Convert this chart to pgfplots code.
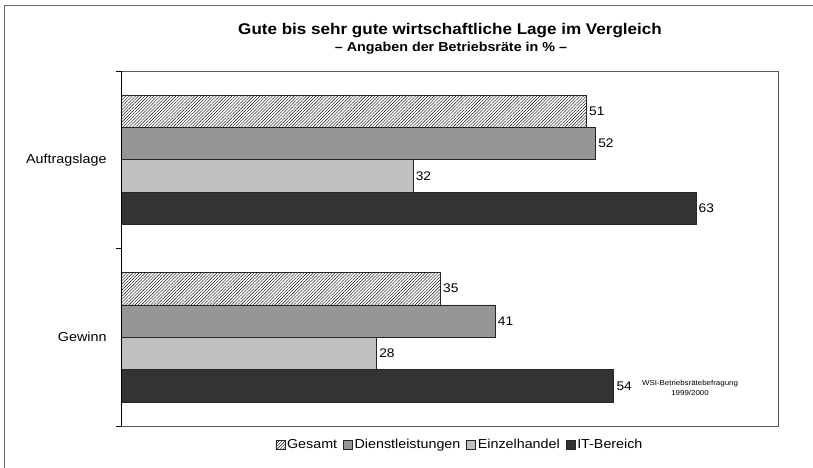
\documentclass[border=0pt]{standalone}
\usepackage{fontspec}
\setmainfont{Liberation Sans}[FakeStretch=1.1]
\usepackage{pgfplots}
\pgfplotsset{compat=1.18}
\usetikzlibrary{patterns.meta}
\definecolor{dienst}{HTML}{969696}
\definecolor{einzel}{HTML}{C0C0C0}
\definecolor{itber}{HTML}{333333}
\begin{document}
\begin{tikzpicture}
\useasboundingbox (0pt,0pt) rectangle (813pt,468pt);
% outer frame (only left and top visible)
\draw[gray!80!black, line width=1pt] (4pt,0pt) -- (4pt,462pt) -- (813pt,462pt);
% title
\node[font=\bfseries\fontsize{15.5}{17}\selectfont] at (450pt,437pt) {Gute bis sehr gute wirtschaftliche Lage im Vergleich};
\node[font=\bfseries\fontsize{13}{15}\selectfont] at (451pt,420pt) {– Angaben der Betriebsräte in \% –};
\begin{axis}[
  at={(121pt,42pt)}, anchor=south west,
  width=657pt, height=355pt, scale only axis,
  xbar=0pt, bar width=0.1825,
  y dir=reverse,
  xmin=0, xmax=72, ymin=-0.5, ymax=1.5,
  xtick=\empty,
  ytick={0,1}, yticklabels={Auftragslage,Gewinn},
  ytick pos=left,
  major tick length=0pt,
  extra y ticks={-0.5,0.5,1.5}, extra y tick labels={},
  extra y tick style={major tick length=5pt, tick align=outside, tick style={black, line width=0.8pt}},
  yticklabel style={font=\fontsize{13}{15}\selectfont, xshift=-11pt},
  axis line style={gray!70!black, line width=0.8pt},
  /pgf/number format/assume math mode=true,
  nodes near coords,
  nodes near coords style={font=\fontsize{12.5}{14}\selectfont, fill=white, inner sep=1.5pt, anchor=west, xshift=1pt},
  every axis plot/.append style={draw=black!85, line width=0.6pt},
  legend columns=-1,
  legend style={at={(0.516,-0.053)}, anchor=center, draw=none, fill=none,
    font=\fontsize{13}{15}\selectfont,
    /tikz/every even column/.append style={column sep=4pt}},
  legend image code/.code={\draw[#1, line width=0.5pt] (0pt,-4.5pt) rectangle (9pt,4.5pt);},
]
\addplot[pattern={Lines[angle=45,distance=2.2pt,line width=0.4pt]}] coordinates {(51,0) (35,1)};
\addplot[fill=dienst] coordinates {(52,0) (41,1)};
\addplot[fill=einzel] coordinates {(32,0) (28,1)};
\addplot[fill=itber] coordinates {(63,0) (54,1)};
\legend{Gesamt,Dienstleistungen,Einzelhandel,IT-Bereich}
\draw[black, line width=0.9pt] (rel axis cs:0,0) -- (rel axis cs:0,1);
\end{axis}
\node[font=\fontsize{7.2}{9.5}\selectfont, align=center] at (690pt,80pt) {WSI-Betriebsrätebefragung\\1999/2000};
\end{tikzpicture}
\end{document}
